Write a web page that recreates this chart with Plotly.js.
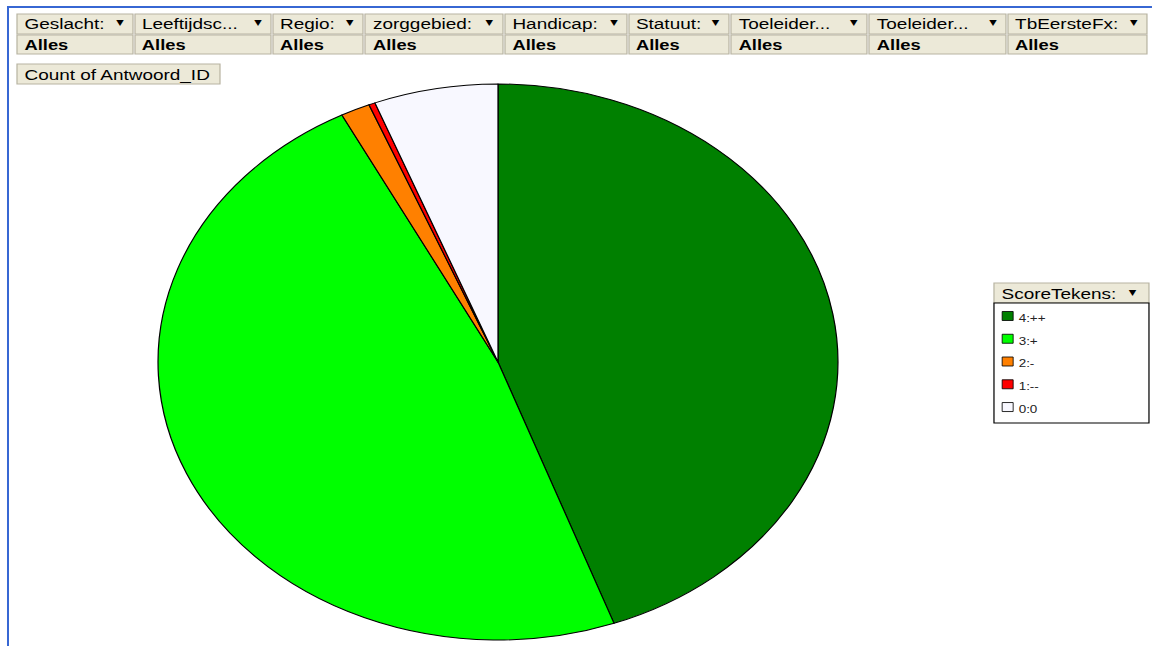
<!DOCTYPE html>
<html>
<head>
<meta charset="utf-8">
<script src="https://cdn.plot.ly/plotly-3.0.1.min.js"></script>
<style>
  body { margin: 0; background: #fff; overflow: hidden; }
  /* the original screenshot is stretched sideways, so the whole chart is too */
  #myDiv { width: 942px; height: 646px; transform: scaleX(1.2229); transform-origin: 0 0; }
  /* smaller legend swatches, text closer to them */
  #myDiv .legendpie { transform: translate(20px, 0) scale(0.75); }
  #myDiv .legendtext { transform: translateX(-11px); }
</style>
</head>
<body>
<div id="myDiv"></div>
<script>
// data
var scoreLabels = ["4:++", "3:+", "2:-", "1:--", "0:0"];
var scoreCounts = [445, 480, 14, 3, 59];
var scoreColors = ["#008000", "#00ff00", "#ff8000", "#ff0000", "#f8f8ff"];

var filterFields = ["Geslacht:", "Leeftijdsc...", "Regio:", "zorggebied:", "Handicap:",
  "Statuut:", "Toeleider...", "Toeleider...", "TbEersteFx:"];
var filterValues = ["Alles", "Alles", "Alles", "Alles", "Alles", "Alles", "Alles", "Alles", "Alles"];

var measureName = "Count of Antwoord_ID";
var legendField = "ScoreTekens:";

// layout helpers (reference pixels -> paper fractions)
var W = 1152, H = 646, PW = 942;
function fx(px) { return px / W; }
function fy(py) { return 1 - py / H; }

var beige = "#ece9d8";
var cellLine = "#b8b4a2";
var font = "Liberation Sans, Arial, sans-serif";

var colEdges = [[17, 133], [135, 271], [273, 363], [365, 503], [505, 627],
  [629, 729], [731, 867], [869, 1006], [1008, 1147]];

var shapes = [];
var annotations = [];

function cell(x0, y0, x1, y1) {
  shapes.push({
    type: "rect", xref: "paper", yref: "paper", layer: "below",
    x0: fx(x0), x1: fx(x1), y0: fy(y1), y1: fy(y0),
    fillcolor: beige, line: { color: cellLine, width: 1 }
  });
}
function label(txt, x, y, size, bold, anchor) {
  annotations.push({
    xref: "paper", yref: "paper", x: fx(x), y: fy(y), showarrow: false,
    xanchor: anchor || "left", yanchor: "middle",
    text: bold ? "<b>" + txt + "</b>" : txt,
    font: { family: font, size: size, color: "#000" }
  });
}
function arrow(x, y) {
  annotations.push({
    xref: "paper", yref: "paper", x: fx(x), y: fy(y), showarrow: false,
    xanchor: "right", yanchor: "middle", text: "▼",
    font: { family: "DejaVu Sans", size: 8, color: "#000" }
  });
}

// page fields
for (var i = 0; i < filterFields.length; i++) {
  var c = colEdges[i];
  cell(c[0], 14, c[1], 34);
  cell(c[0], 35, c[1], 54);
  label(filterFields[i], c[0] + 5, 24, 15.5, false);
  arrow(c[1] - 6, 23);
  label(filterValues[i], c[0] + 5, 44.5, 15, true);
}

// data field button
cell(17, 64, 220, 84);
label(measureName, 22, 74, 15.5, false);

// legend header + box
cell(994, 283, 1149, 303);
label(legendField, 999, 293, 15.5, false);
arrow(1140, 292);
shapes.push({
  type: "rect", xref: "paper", yref: "paper", layer: "below",
  x0: fx(994), x1: fx(1149), y0: fy(423), y1: fy(303),
  fillcolor: "#fff", line: { color: "#000", width: 1 }
});

// blue window frame
shapes.push({
  type: "rect", xref: "paper", yref: "paper", layer: "below",
  x0: fx(7), x1: fx(9), y0: 0, y1: fy(6),
  fillcolor: "#3767d3", line: { width: 0 }
});
shapes.push({
  type: "rect", xref: "paper", yref: "paper", layer: "below",
  x0: fx(7), x1: 1, y0: fy(8), y1: fy(6),
  fillcolor: "#3767d3", line: { width: 0 }
});

var legendText = scoreLabels.map(function (l) {
  return '<span style="font-size:11px">' + l + "</span>";
});

var half = 278 / PW;
var trace1 = {
  type: "pie",
  labels: legendText,
  values: scoreCounts,
  sort: false,
  direction: "clockwise",
  rotation: 0,
  textinfo: "none",
  hoverinfo: "label+value+percent",
  marker: { colors: scoreColors, line: { color: "#000", width: 1 } },
  domain: { x: [fx(498) - half, fx(498) + half], y: [fy(640), fy(84)] }
};

var layout = {
  width: PW,
  height: H,
  margin: { l: 0, r: 0, t: 0, b: 0 },
  paper_bgcolor: "#fff",
  showlegend: true,
  legend: {
    x: 0.8535, xanchor: "left",
    y: 0.5362, yanchor: "top",
    bgcolor: "rgba(0,0,0,0)",
    borderwidth: 0,
    font: { family: font, size: 15.2, color: "#222" }
  },
  shapes: shapes,
  annotations: annotations
};

Plotly.newPlot("myDiv", [trace1], layout, { displayModeBar: false, staticPlot: true });
</script>
</body>
</html>
